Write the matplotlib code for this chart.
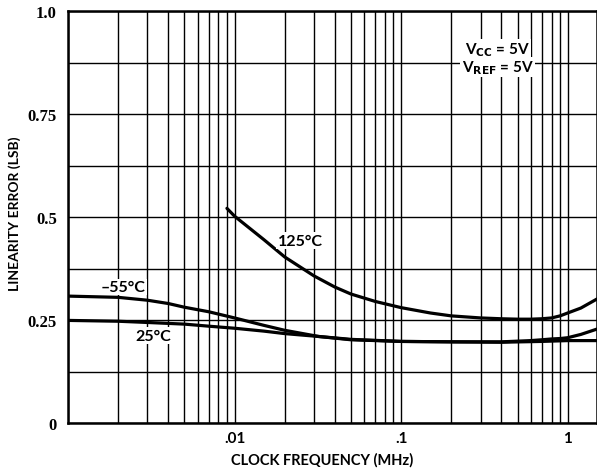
import matplotlib
matplotlib.use("Agg")
import matplotlib.pyplot as plt
from matplotlib.ticker import FixedLocator, NullFormatter

# Data (frequency in MHz, linearity error in LSB)
freq_m55 = [0.001, 0.002, 0.003, 0.004, 0.005, 0.007, 0.01, 0.015, 0.02, 0.032,
            0.05, 0.1, 0.2, 0.4, 0.6, 0.7, 0.8, 0.9, 1.0, 1.2, 1.5]
err_m55 = [0.308, 0.305, 0.298, 0.290, 0.281, 0.270, 0.255, 0.237, 0.225, 0.210,
           0.202, 0.198, 0.197, 0.197, 0.200, 0.202, 0.204, 0.205, 0.207, 0.215, 0.228]

freq_25 = [0.001, 0.002, 0.003, 0.005, 0.007, 0.01, 0.015, 0.02, 0.032, 0.05,
           0.1, 0.2, 0.4, 0.7, 1.0, 1.5]
err_25 = [0.249, 0.247, 0.244, 0.240, 0.235, 0.230, 0.223, 0.217, 0.210, 0.203,
          0.198, 0.197, 0.196, 0.198, 0.200, 0.200]

freq_125 = [0.009, 0.01, 0.015, 0.02, 0.03, 0.04, 0.05, 0.07, 0.1, 0.15, 0.2, 0.3,
            0.4, 0.5, 0.6, 0.7, 0.8, 0.9, 1.0, 1.2, 1.5]
err_125 = [0.521, 0.502, 0.445, 0.403, 0.357, 0.330, 0.313, 0.295, 0.280, 0.267,
           0.260, 0.255, 0.253, 0.252, 0.252, 0.253, 0.255, 0.260, 0.267, 0.279, 0.301]

ytick_vals = [0, 0.25, 0.5, 0.75, 1.0]
ytick_labels = ["0", "0.25", "0.5", "0.75", "1.0"]
ygrid_vals = [0.125, 0.375, 0.625, 0.875]
xtick_vals = [0.01, 0.1, 1]
xtick_labels = [".01", ".1", "1"]

sans = ["Lato", "Open Sans", "DejaVu Sans"]

fig = plt.figure(figsize=(5.97, 4.77), dpi=100)
ax = fig.add_axes([68/597, (477-424)/477, 1 - 68/597, (424-12)/477])

ax.set_xscale("log")
ax.set_xlim(0.001, 1.5)
ax.set_ylim(0, 1.0)

# grid
minor = [m * 10**e for e in (-3, -2, -1, 0) for m in range(1, 10)]
ax.xaxis.set_minor_locator(FixedLocator(minor))
ax.xaxis.set_minor_formatter(NullFormatter())
ax.xaxis.set_major_locator(FixedLocator(xtick_vals))
ax.set_xticklabels(xtick_labels)
ax.set_yticks(ytick_vals)
ax.set_yticklabels(ytick_labels)
ax.set_yticks(ygrid_vals, minor=True)
ax.grid(True, which="both", color="black", linewidth=1.0)
ax.tick_params(which="both", length=0)
ax.tick_params(axis="x", pad=6)
ax.tick_params(axis="y", pad=8)
for lab in ax.get_xticklabels():
    lab.set_fontfamily(sans)
    lab.set_fontweight("bold")
    lab.set_fontsize(11)
for lab in ax.get_yticklabels():
    lab.set_fontfamily(["Liberation Serif", "DejaVu Serif"])
    lab.set_fontweight("bold")
    lab.set_fontsize(12)

for sp in ax.spines.values():
    sp.set_linewidth(1.8)
    sp.set_color("black")

line_kw = dict(color="black", linewidth=2.3, zorder=3,
               solid_joinstyle="round", solid_capstyle="round")
ax.plot(freq_m55, err_m55, **line_kw)
ax.plot(freq_25, err_25, **line_kw)
ax.plot(freq_125, err_125, **line_kw)

lab_kw = dict(fontfamily=sans, fontweight="bold", fontsize=11.5,
              ha="center", va="center", zorder=4)
bbox = dict(facecolor="white", edgecolor="none", pad=1)
ax.text(0.0248, 0.442, "125°C", bbox=bbox, **lab_kw)
ax.text(0.00214, 0.33, "–55°C", bbox=bbox, **lab_kw)
ax.text(0.00323, 0.212, "25°C", bbox=bbox, **lab_kw)

v_kw = dict(lab_kw)
v_kw["fontsize"] = 11
ax.text(0.38, 0.908, r"V$_{\mathbf{CC}}$ = 5V", bbox=bbox, **v_kw)
ax.text(0.38, 0.864, r"V$_{\mathbf{REF}}$ = 5V", bbox=bbox, **v_kw)

ax.set_xlabel("CLOCK FREQUENCY (MHz)", fontfamily=sans, fontweight="bold",
              fontsize=10.5)
ax.xaxis.set_label_coords((322 - 68) / 529, -(460 - 424) / 412)
ax.xaxis.label.set_va("center")
ax.set_ylabel("LINEARITY ERROR (LSB)", fontfamily=sans, fontweight="bold",
              fontsize=10)
ax.yaxis.set_label_coords((15 - 68) / 529, (424 - 214) / 412)
ax.yaxis.label.set_va("center")

fig.savefig("out.png", dpi=100)
